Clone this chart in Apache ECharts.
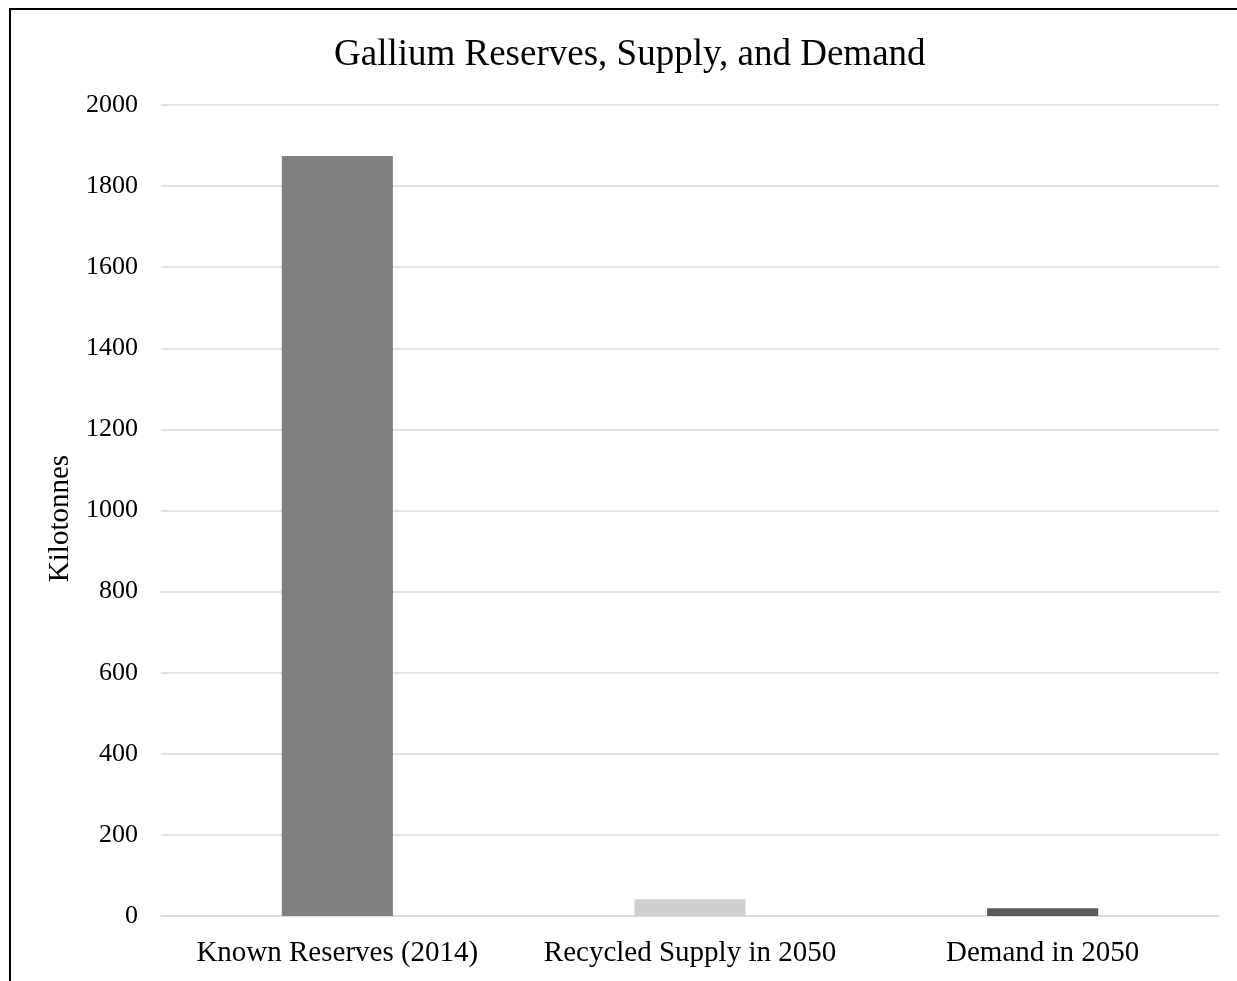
<!DOCTYPE html>
<html>
<head>
<meta charset="utf-8">
<script src="https://cdn.jsdelivr.net/npm/echarts@6/dist/echarts.min.js"></script>
<style>html,body{margin:0;padding:0;background:#fff;}#c{width:1237px;height:981px;}</style>
</head>
<body>
<div id="c"></div>
<script>
const categories = ['Known Reserves (2014)', 'Recycled Supply in 2050', 'Demand in 2050'];
const values = [1874, 41, 19];
const barColors = ['#7f7f7f', '#d0cece', '#595959'];
const yTicks = [0, 200, 400, 600, 800, 1000, 1200, 1400, 1600, 1800, 2000];

const font = '"Liberation Serif", "Times New Roman", serif';
const chart = echarts.init(document.getElementById('c'));
chart.setOption({
  animation: false,
  backgroundColor: '#fff',
  title: {
    text: 'Gallium Reserves, Supply, and Demand',
    left: 334, top: 37, padding: 0,
    textStyle: { fontFamily: font, fontSize: 37, fontWeight: 'normal', color: '#000' }
  },
  grid: { left: 161, right: 18, top: 105, bottom: 65, containLabel: false },
  xAxis: {
    type: 'category', data: categories,
    axisLine: { lineStyle: { color: '#d9d9d9', width: 1.5 } },
    axisTick: { show: false },
    axisLabel: { fontFamily: font, fontSize: 29, color: '#000', margin: 23, interval: 0, hideOverlap: false }
  },
  yAxis: {
    type: 'value', min: yTicks[0], max: yTicks[yTicks.length - 1], interval: 200,
    name: 'Kilotonnes', nameLocation: 'middle', nameGap: 82, nameRotate: 90,
    nameTextStyle: { fontFamily: font, fontSize: 29, color: '#000', padding: [0, 16, 0, 0] },
    axisLine: { show: false }, axisTick: { show: false },
    axisLabel: { fontFamily: font, fontSize: 26, color: '#000', margin: 23, formatter: v => String(v) },
    splitLine: { lineStyle: { color: '#d9d9d9', width: 1.5 } }
  },
  series: [{
    type: 'bar', barWidth: '31.5%',
    data: values.map((v, i) => ({ value: v, itemStyle: { color: barColors[i] } }))
  }],
  graphic: [{
    type: 'rect', silent: true, z: 100,
    shape: { x: 10, y: 9, width: 1400, height: 1200 },
    style: { fill: 'none', stroke: '#000', lineWidth: 2 }
  }]
});
</script>
</body>
</html>
